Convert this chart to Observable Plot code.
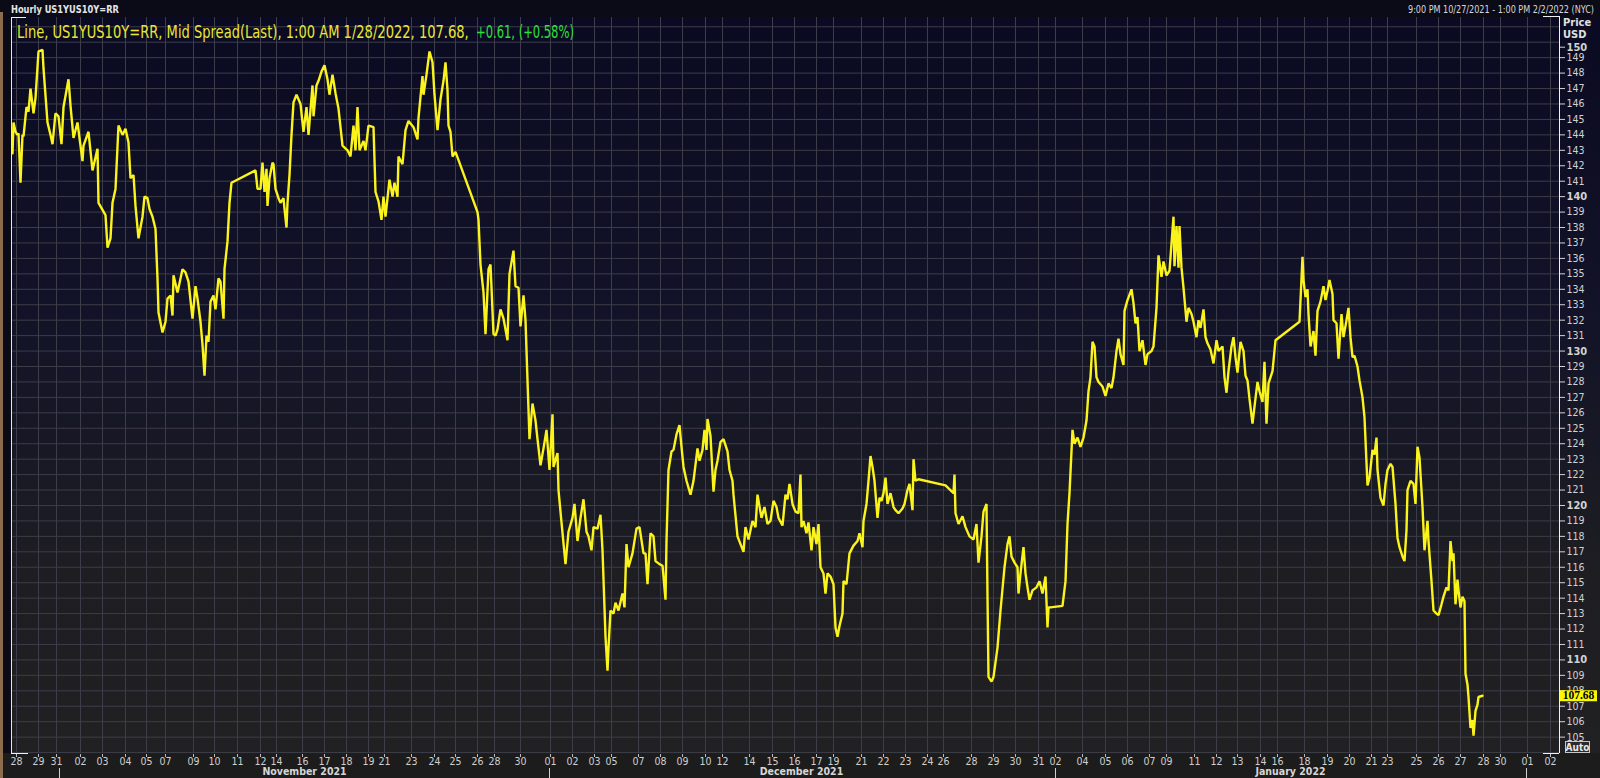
<!DOCTYPE html>
<html>
<head>
<meta charset="utf-8">
<script src="https://cdn.jsdelivr.net/npm/d3@7"></script>
<script src="https://cdn.jsdelivr.net/npm/@observablehq/plot@0.6"></script>
<style>
  html, body { margin:0; padding:0; background:#0a0a16; }
  #wrap { position:relative; width:1600px; height:778px; overflow:hidden; background:#0b0b18; }
  #panel { position:absolute; left:11px; top:17px; width:1589px; height:736px;
           background:linear-gradient(to bottom, #0a0b22 0%, #121328 40%, #1d1d22 75%, #212123 100%); }
  #xstrip { position:absolute; left:0; top:753px; width:1600px; height:25px; background:#1c1c1c; }
  #edge { position:absolute; left:0; top:12px; width:3px; height:766px; background:#8c6c4c; }
  #chart { position:absolute; left:0; top:0; }
</style>
</head>
<body>
<div id="wrap"><div id="panel"></div><div id="xstrip"></div><div id="edge"></div><div id="chart"></div></div>
<script>
// ---- text ----
const headerLeft = "Hourly US1YUS10Y=RR";
const headerRight = "9:00 PM 10/27/2021 - 1:00 PM 2/2/2022 (NYC)";
const legendMain = "Line, US1YUS10Y=RR, Mid Spread(Last), 1:00 AM 1/28/2022, 107.68,";
const legendChange = "+0.61, (+0.58%)";
const axisTitle = ["Price", "USD"];

// ---- x axis: hourly bar index (weekends removed) ----
const xTickPos = [4,26,44,68,90,113,134,153,181,202,225,248,264,290,312,334,356,372,399,422,443,465,482,508,
  538,560,582,599,626,648,670,693,710,737,760,782,804,821,849,871,893,915,931,959,981,1003,1026,
  1043,1070,1093,1115,1137,1154,1182,1204,1225,1248,1265,1292,1315,1337,1359,1375,1404,1426,1448,1471,1488,
  1515,1538];
const xTickLabels = ["28","29","31","02","03","04","05","07","09","10","11","12","14","16","17","18","19","21","23","24","25","26","28","30",
  "01","02","03","05","07","08","09","10","12","14","15","16","17","19","21","22","23","24","26","28","29","30","31",
  "02","04","05","06","07","09","11","12","13","14","16","18","19","20","21","23","25","26","27","28","30",
  "01","02"];
const monthStarts = [47, 537, 1043, 1514];
const monthCenters = [292, 789, 1278];
const monthNames = ["November 2021", "December 2021", "January 2022"];

// ---- y axis ----
const yTicksRegular = [105,106,107,108,109,111,112,113,114,115,116,117,118,119,121,122,123,124,125,126,127,128,129,
  131,132,133,134,135,136,137,138,139,141,142,143,144,145,146,147,148,149];
const yTicksBold = [110,120,130,140];
const yTickTop = [150];

// ---- series: [hour index, spread] ----
const lateOctober = [[0,142.8],[1,144.8],[3,144.2],[5,144.0],[6,144.1],[8,140.9],[10,144.0],[11,143.9],[14,145.8],[16,145.5],[18,147.0],[21,145.4],[23,146.4],[26,149.4],[30,149.5],[31,148.3],[35,144.8],[38,144.0],[40,143.4],[43,145.4],[46,145.2]];
const november = [[49,143.4],[51,145.8],[56,147.6],[58,145.9],[61,143.8],[65,144.8],[70,142.3],[71,143.3],[76,144.2],[80,141.7],[85,143.1],[86,139.6],[93,138.8],[95,136.7],[98,137.3],[100,139.6],[103,140.5],[106,144.6],[110,144.0],[113,144.4],[116,143.5],[118,141.2],[121,141.4],[123,139.4],[125,138.0],[126,137.3],[130,138.7],[132,140.0],[135,139.9],[137,139.2],[140,138.7],[143,137.9],[145,134.7],[146,132.5],[150,131.2],[153,131.9],[155,133.4],[158,133.6],[160,132.3],[161,134.9],[165,133.8],[170,135.3],[173,135.1],[176,134.5],[180,132.1],[183,134.2],[185,133.4],[188,131.9],[190,130.4],[192,128.4],[194,131.0],[196,130.6],[198,133.2],[201,133.6],[203,132.7],[206,134.7],[208,134.5],[211,132.1],[212,135.3],[215,137.1],[217,139.6],[219,140.9],[243,141.7],[245,140.5],[248,140.5],[250,142.2],[252,140.3],[254,141.8],[255,139.4],[257,141.2],[260,142.2],[261,142.1],[263,140.5],[266,139.9],[268,139.6],[271,139.9],[272,139.2],[274,138.0],[275,139.6],[277,141.4],[279,144.0],[281,146.1],[284,146.6],[288,146.0],[291,144.2],[294,145.8],[296,144.0],[300,147.2],[301,145.2],[304,147.2],[306,147.5],[309,148.1],[312,148.5],[315,147.6],[317,146.6],[320,147.9],[323,146.7],[326,145.7],[330,143.3],[335,143.0],[338,142.6],[341,144.6],[343,143.0],[345,145.8],[347,143.0],[351,143.6],[353,143.0],[356,144.6],[361,144.5],[363,140.3],[366,139.7],[369,138.5],[371,140.0],[373,138.7],[377,141.1],[380,140.0],[382,140.9],[385,140.0],[386,142.6],[390,142.1],[393,144.3],[396,144.9],[401,144.5],[405,143.7],[406,145.1],[410,147.8],[411,146.6],[414,147.9],[417,149.4],[420,148.7],[422,146.6],[425,144.3],[428,146.3],[431,147.5],[433,148.7],[435,146.9],[436,144.6],[438,144.2],[440,142.6],[443,142.9],[465,139.0],[466,138.5],[468,135.6],[471,133.8],[473,131.1],[476,135.3],[478,135.6],[481,131.1],[483,131.0],[485,131.4],[488,132.7],[491,132.1],[495,130.7],[497,135.0],[501,136.5],[503,134.2],[506,134.1],[508,131.6],[511,133.6],[513,132.0],[515,128.1],[517,124.3],[520,126.6],[523,125.5],[525,124.3],[528,122.6],[531,123.7],[534,124.9]];
const december = [[537,122.3],[540,125.9],[541,122.5],[545,123.4],[546,121.0],[549,118.9],[553,116.2],[556,118.3],[560,119.2],[562,120.1],[565,117.7],[568,119.2],[571,120.4],[574,118.3],[576,118.0],[579,117.1],[581,118.6],[585,118.5],[588,119.4],[590,117.1],[593,111.5],[595,109.3],[596,110.8],[598,113.2],[601,113.0],[603,113.7],[606,113.2],[610,114.3],[612,113.4],[614,117.5],[616,116.0],[620,116.9],[624,118.5],[627,118.6],[631,116.9],[633,116.9],[635,114.9],[638,118.2],[641,118.0],[643,116.4],[647,116.2],[650,116.1],[653,113.9],[654,117.7],[656,122.3],[659,123.5],[661,123.6],[664,124.6],[667,125.2],[669,123.8],[671,122.5],[674,121.6],[678,120.7],[681,121.6],[685,123.7],[687,122.9],[690,123.6],[692,124.9],[694,123.6],[695,125.6],[698,124.5],[701,120.9],[703,122.3],[705,122.9],[708,124.1],[711,124.3],[715,123.5],[717,122.3],[720,121.6],[721,120.7],[725,118.0],[728,117.5],[731,117.0],[733,118.6],[736,117.8],[740,119.0],[743,118.6],[745,120.7],[749,119.2],[752,119.9],[755,118.8],[758,119.0],[761,120.3],[764,119.9],[766,119.2],[770,118.7],[773,120.7],[775,120.4],[777,121.4],[780,120.1],[783,119.6],[786,119.5],[788,122.0],[789,118.6],[791,119.0],[794,118.2],[796,118.9],[799,117.1],[801,118.6],[804,117.5],[806,118.8],[808,116.0],[811,115.6],[813,114.3],[815,115.6],[818,115.4],[821,114.9],[823,112.1],[825,111.5],[827,112.2],[830,113.0],[831,115.1],[834,114.9],[837,116.9],[841,117.4],[845,117.7],[847,118.2],[850,117.3],[851,119.0],[854,120.1],[856,121.6],[858,123.2],[860,122.5],[862,121.6],[865,119.2],[867,120.5],[869,120.3],[871,120.8],[873,121.8],[875,120.1],[878,120.8],[881,119.9],[883,119.7],[886,119.5],[890,119.8],[892,120.1],[895,121.0],[897,121.4],[900,119.7],[901,123.0],[903,121.6],[906,121.7],[933,121.3],[941,120.8],[942,122.0],[943,119.5],[946,118.8],[950,119.3],[953,118.6],[957,118.0],[961,117.8],[964,118.8],[966,116.3],[969,118.0],[971,119.6],[974,120.1],[975,114.1],[976,108.9],[979,108.6],[981,108.9],[985,110.8],[988,113.2],[992,116.0],[995,117.5],[997,118.0],[999,116.7],[1002,116.3],[1005,116.0],[1006,114.3],[1008,115.6],[1011,117.3],[1013,115.6],[1015,114.7],[1017,113.9],[1020,114.5],[1024,114.7],[1027,115.1],[1030,114.3],[1033,115.4],[1035,112.1],[1036,113.4],[1038,113.4]];
const january = [[1050,113.5],[1053,115.1],[1055,118.8],[1057,120.8],[1060,124.9],[1062,124.0],[1065,124.4],[1068,123.8],[1071,124.4],[1074,125.5],[1076,127.4],[1078,128.3],[1080,130.6],[1082,130.3],[1084,128.3],[1086,128.0],[1090,127.7],[1093,127.1],[1096,127.9],[1099,127.6],[1101,128.3],[1104,130.0],[1106,130.8],[1108,129.8],[1111,129.1],[1112,132.6],[1115,133.3],[1119,134.0],[1121,133.1],[1123,131.8],[1125,132.2],[1127,130.0],[1130,130.7],[1133,129.1],[1135,129.8],[1139,130.0],[1141,130.3],[1144,132.8],[1146,136.2],[1149,134.8],[1151,135.8],[1154,134.9],[1157,135.2],[1161,138.7],[1162,135.5],[1164,138.1],[1166,135.4],[1167,138.1],[1169,135.4],[1171,134.1],[1174,131.9],[1176,132.8],[1179,132.4],[1181,131.9],[1184,130.9],[1186,132.0],[1188,131.5],[1191,132.7],[1193,130.9],[1195,130.5],[1198,130.1],[1201,129.2],[1204,130.7],[1206,130.0],[1210,130.3],[1212,128.3],[1214,127.3],[1216,128.7],[1219,130.3],[1221,130.9],[1223,129.6],[1225,128.6],[1228,130.6],[1231,130.0],[1233,128.4],[1235,128.1],[1237,126.9],[1240,125.3],[1242,126.4],[1245,128.0],[1247,127.4],[1250,126.7],[1252,129.3],[1254,125.3],[1256,127.9],[1260,128.7],[1263,130.7],[1287,131.9],[1290,136.1],[1291,134.6],[1293,133.5],[1295,134.0],[1296,132.4],[1298,130.3],[1301,131.3],[1303,129.7],[1305,132.6],[1308,133.2],[1311,134.2],[1313,133.3],[1315,133.9],[1317,134.6],[1320,133.7],[1321,132.0],[1324,131.8],[1326,129.5],[1329,132.4],[1331,130.9],[1334,132.0],[1336,132.8],[1338,130.9],[1340,129.6],[1342,129.7],[1345,129.0],[1347,128.1],[1350,127.0],[1352,125.7],[1355,121.3],[1357,121.8],[1360,123.6],[1362,123.3],[1364,124.4],[1365,122.3],[1368,120.5],[1371,120.0],[1373,121.4],[1375,122.3],[1378,122.7],[1380,122.5],[1383,120.1],[1385,117.9],[1387,117.3],[1390,116.7],[1392,116.4],[1394,118.4],[1395,121.0],[1398,121.6],[1401,121.4],[1403,120.1],[1405,123.8],[1407,123.1],[1410,119.9],[1412,117.1],[1415,119.0],[1416,117.7],[1419,115.1],[1421,113.2],[1424,113.0],[1426,112.9],[1429,113.6],[1431,114.1],[1434,114.7],[1436,114.5],[1438,117.7],[1440,116.4],[1441,116.9],[1443,113.6],[1445,115.2],[1446,114.5],[1448,113.4],[1450,114.1],[1452,113.8],[1453,109.1],[1455,108.4],[1456,107.6],[1458,105.6],[1460,106.1],[1461,105.1],[1463,106.7],[1465,107.1],[1466,107.6],[1470,107.68]];

// ---- build ----
const FONT = "'Liberation Sans Narrow','DejaVu Sans Condensed','Liberation Sans',Arial,sans-serif";
const points = [...lateOctober, ...november, ...december, ...january].map(([hour, spread]) => ({hour, spread}));
const ticks = xTickPos.map((pos, i) => ({pos, label: xTickLabels[i]}));
const months = monthCenters.map((pos, i) => ({pos, label: monthNames[i]}));
const last = points[points.length - 1];
const xDomain = [-1, 1547];
const yDomain = [103.94, 151.6];
const GRID = "#3d3d49";

const chart = Plot.plot({
  width: 1600, height: 778,
  marginTop: 17, marginBottom: 25, marginLeft: 11, marginRight: 41,
  style: {background: "transparent", color: "#d2d2d2", fontFamily: FONT, fontSize: "10px", overflow: "visible"},
  x: {type: "linear", domain: xDomain, axis: null},
  y: {type: "linear", domain: yDomain, axis: null},
  marks: [
    Plot.gridY(d3.range(104, 152), {stroke: GRID, strokeOpacity: 1}),
    Plot.gridX(xTickPos, {stroke: GRID, strokeOpacity: 1}),
    Plot.ruleX(xTickPos, {stroke: "#bdbdbd", insetTop: 737, insetBottom: -4}),
    Plot.text(ticks, {x: "pos", text: "label", frameAnchor: "bottom", dy: 11, fill: "#cfcfcf", fontSize: 10.5}),
    Plot.ruleX(monthStarts, {stroke: "#d0d0d0", insetTop: 751, insetBottom: -25}),
    Plot.text(months, {x: "pos", text: "label", frameAnchor: "bottom", dy: 21, fill: "#d6d6d6", fontWeight: "bold", fontSize: 10.5}),
    Plot.line(points, {x: "hour", y: "spread", stroke: "#fbf31c", strokeWidth: 2.4, strokeLinejoin: "miter"}),
    Plot.ruleX([xDomain[0]], {stroke: "#e6e6e6"}),
    Plot.ruleX([xDomain[1]], {stroke: "#f2f2f2", insetTop: -1}),
    Plot.ruleY([yDomain[0]], {stroke: "#f0f0f0", insetRight: 1531}),
    Plot.ruleY([yDomain[0]], {stroke: "#f0f0f0", insetLeft: 1532}),
    Plot.ruleY([yDomain[1]], {stroke: "#f0f0f0", insetRight: 1533}),
    Plot.ruleY([yDomain[1]], {stroke: "#f0f0f0", insetLeft: 1532, dy: -1}),
    Plot.axisY(yTicksRegular, {anchor: "right", tickSize: 5, tickPadding: 2, label: null, fontSize: 10.5}),
    Plot.axisY(yTicksBold, {anchor: "right", tickSize: 5, tickPadding: 2, label: null, fontSize: 11, fontWeight: "bold"}),
    Plot.axisY(yTickTop, {anchor: "right", tickSize: 5, tickPadding: 2, label: null, fontSize: 11, fontWeight: "bold", dy: 5}),
    Plot.ruleY([last], {y: "spread", stroke: "#f8f800", strokeWidth: 11, insetLeft: 1549, insetRight: -38}),
    Plot.text([last], {y: "spread", text: d => d.spread.toFixed(2), frameAnchor: "right", dx: 19, textAnchor: "middle", fill: "#000", fontWeight: "bold", fontFamily: "'Liberation Serif',serif", fontSize: 11.5})
  ]
});
document.getElementById("chart").appendChild(chart);

// ---- header, legend and axis title (scaled horizontally to the reference widths) ----
const svg = d3.select(chart);
const g = svg.append("g").attr("font-family", FONT).attr("text-anchor", "start");
function fitted(str, x, y, width, attrs) {
  const t = g.append("text").attr("x", 0).attr("y", 0).text(str);
  for (const [k, v] of Object.entries(attrs)) t.attr(k, v);
  const w = t.node().getComputedTextLength() || width;
  t.attr("transform", `translate(${x},${y}) scale(${width / w},1)`);
  return t;
}
fitted(headerLeft, 11, 13, 108, {fill: "#e4e4e4", "font-weight": "bold", "font-size": 10.5});
fitted(headerRight, 1408, 13, 186, {fill: "#d8d8d8", "font-size": 10});
fitted(legendMain, 17, 38, 452, {fill: "#ece632", "font-size": 17.5});
fitted(legendChange, 476, 38, 98, {fill: "#2fe03a", "font-size": 17.5});
g.append("text").attr("x", 1563).attr("y", 26).attr("fill", "#e0e0e0").attr("font-weight", "bold").attr("font-size", 11).text(axisTitle[0]);
g.append("text").attr("x", 1563).attr("y", 38).attr("fill", "#e0e0e0").attr("font-weight", "bold").attr("font-size", 11).text(axisTitle[1]);
g.append("rect").attr("x", 1565.5).attr("y", 741.5).attr("width", 24).attr("height", 11)
  .attr("fill", "#2a2a30").attr("stroke", "#c8c8c8");
g.append("text").attr("x", 1577.5).attr("y", 750.5).attr("text-anchor", "middle").attr("fill", "#e8e8e8")
  .attr("font-weight", "bold").attr("font-size", 10).text("Auto");
</script>
</body>
</html>
